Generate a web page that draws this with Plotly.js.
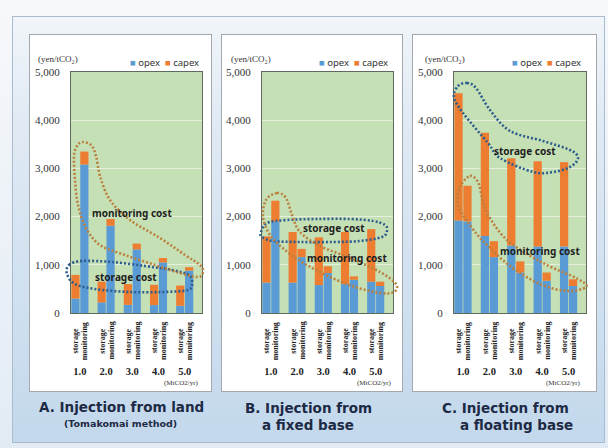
<!DOCTYPE html>
<html>
<head>
<meta charset="utf-8">
<script src="https://cdn.plot.ly/plotly-3.0.1.min.js"></script>
<style>
  html, body { margin:0; padding:0; }
  body { width:608px; height:448px; position:relative; overflow:hidden;
         background: linear-gradient(#f6f8fb, #e2ebf4); }
  #frame { position:absolute; left:12px; top:16px; width:593px; height:427px; box-sizing:border-box;
           border:1px solid #a9bccf; background: linear-gradient(#f1f5f9 0%, #e0eaf4 25%, #c3d8ec 100%); }
  .card { position:absolute; top:34px; height:358px; box-sizing:border-box;
          border:1px solid #a3a8ad; background:#ffffff; }
  #chart { position:absolute; left:0; top:0; width:608px; height:448px; }
</style>
</head>
<body>
<div id="frame"></div>
<div class="card" style="left:29px; width:183px;"></div>
<div class="card" style="left:221px; width:182px;"></div>
<div class="card" style="left:412px; width:185px;"></div>
<div id="chart"></div>
<script>
// ---------------- data ----------------
const categories = ['1.0', '2.0', '3.0', '4.0', '5.0'];
const barLabels = ['storage', 'monitoring'];
const seriesNames = ['opex', 'capex'];

// A. Injection from land (Tomakomai method)
const landStorageOpex   = [300, 220, 170, 165, 150];
const landStorageCapex  = [490, 430, 430, 420, 420];
const landMonitorOpex   = [3080, 1810, 1320, 1050, 880];
const landMonitorCapex  = [270, 140, 120, 90, 70];

// B. Injection from a fixed base
const fixedStorageOpex  = [630, 630, 580, 600, 650];
const fixedStorageCapex = [960, 1050, 990, 1080, 1090];
const fixedMonitorOpex  = [1900, 1160, 830, 690, 560];
const fixedMonitorCapex = [430, 170, 140, 70, 90];

// C. Injection from a floating base
const floatStorageOpex  = [1920, 1600, 1400, 1380, 1380];
const floatStorageCapex = [2640, 2140, 1810, 1770, 1750];
const floatMonitorOpex  = [1900, 1160, 840, 670, 560];
const floatMonitorCapex = [740, 330, 230, 170, 140];

const panelTitles = [
  ['A. Injection from land', '(Tomakomai method)'],
  ['B. Injection from', 'a fixed base'],
  ['C. Injection from', 'a floating base']
];
const yUnit = '(yen/tCO₂)';
const xUnit = '(MtCO2/yr)';
const bubbleLabels = ['storage cost', 'monitoring cost'];

// ---------------- style ----------------
const W = 608, H = 448;
const BLUE = '#5b9bd5', ORANGE = '#ed7d31';
const DOT_BLUE = '#2d5d8c', DOT_ORANGE = '#b9803f';
const SERIF = 'Liberation Serif, Times New Roman, serif';
const SANS = 'Noto Sans, Open Sans, sans-serif';
const TITLEFONT = 'DejaVu Sans, Verdana, sans-serif';

const panels = [
  {so: landStorageOpex,  sc: landStorageCapex,  mo: landMonitorOpex,  mc: landMonitorCapex,  px: [71, 202]},
  {so: fixedStorageOpex, sc: fixedStorageCapex, mo: fixedMonitorOpex, mc: fixedMonitorCapex, px: [262, 393]},
  {so: floatStorageOpex, sc: floatStorageCapex, mo: floatMonitorOpex, mc: floatMonitorCapex, px: [454, 586]}
];
const plotTop = 72, plotBottom = 313;
const px2x = v => v / W, px2y = v => 1 - v / H;

const xIdx = categories.map((c, i) => i);
const traces = [];
const layout = {
  width: W, height: H, autosize: false,
  margin: {l: 0, r: 0, t: 0, b: 0},
  paper_bgcolor: 'rgba(0,0,0,0)',
  plot_bgcolor: '#c6e0b5',
  showlegend: false,
  barmode: 'group', bargap: 0.32, bargroupgap: 0.08,
  annotations: [], shapes: []
};

panels.forEach((p, k) => {
  const sfx = k === 0 ? '' : String(k + 1);
  const xa = 'x' + sfx, ya = 'y' + sfx;
  const mk = (y, base, grp, color, name) => ({
    type: 'bar', x: xIdx, y: y, base: base, offsetgroup: grp, name: name,
    xaxis: xa, yaxis: ya, marker: {color: color, line: {width: 0}}, hoverinfo: 'skip'
  });
  traces.push(mk(p.so, undefined, 's', BLUE, seriesNames[0]));
  traces.push(mk(p.sc, p.so, 's', ORANGE, seriesNames[1]));
  traces.push(mk(p.mo, undefined, 'm', BLUE, seriesNames[0]));
  traces.push(mk(p.mc, p.mo, 'm', ORANGE, seriesNames[1]));

  layout['xaxis' + sfx] = {
    domain: [px2x(p.px[0]), px2x(p.px[1])], anchor: ya,
    range: [-0.34, 4.66], tickvals: xIdx, ticktext: categories,
    showgrid: false, zeroline: false, ticks: '',
    showline: true, mirror: true, linecolor: '#5d6a5d', linewidth: 1,
    tickfont: {family: SERIF, size: 10.5, color: '#222', weight: 'bold'},
    ticklabelstandoff: 48, fixedrange: true
  };
  layout['yaxis' + sfx] = {
    domain: [px2y(plotBottom), px2y(plotTop)], anchor: xa,
    range: [0, 5000], dtick: 1000, tickformat: ',d',
    showgrid: true, gridcolor: '#e4f0dc', gridwidth: 1, zeroline: false,
    showline: true, mirror: true, linecolor: '#5d6a5d', linewidth: 1,
    ticks: '', tickfont: {family: SERIF, size: 11, color: '#333'},
    ticklabelstandoff: 8, fixedrange: true
  };

  // rotated bar labels
  xIdx.forEach(i => {
    [-0.17, 0.17].forEach((off, j) => {
      layout.annotations.push({
        xref: xa, yref: 'paper', x: i + off, y: px2y(341),
        text: '<b>' + barLabels[j] + '</b>', textangle: -90, showarrow: false,
        xanchor: 'center', yanchor: 'middle',
        font: {family: SERIF, size: 8, color: '#222'}
      });
    });
  });
});

// unit labels, legends, x units
const unitX = [36, 229, 423];
const legendRight = [201, 390, 583];
const xUnitRight = [201, 394, 583];
for (let k = 0; k < 3; k++) {
  layout.annotations.push({xref: 'paper', yref: 'paper', x: px2x(unitX[k]), y: px2y(59),
    text: yUnit, showarrow: false, xanchor: 'left', yanchor: 'middle',
    font: {family: SERIF, size: 9, color: '#333'}});
  layout.annotations.push({xref: 'paper', yref: 'paper', x: px2x(legendRight[k]), y: px2y(62),
    text: '<span style="color:' + BLUE + '">■</span> ' + seriesNames[0] + '  <span style="color:' + ORANGE + '">■</span> ' + seriesNames[1],
    showarrow: false, xanchor: 'right', yanchor: 'middle',
    font: {family: SANS, size: 9.5, color: '#333'}});
  layout.annotations.push({xref: 'paper', yref: 'paper', x: px2x(xUnitRight[k]), y: px2y(383),
    text: xUnit, showarrow: false, xanchor: 'right', yanchor: 'middle',
    font: {family: SERIF, size: 7, color: '#333'}});
}

// panel titles
const titlePos = [
  [[121, 407, 13.5], [120, 423, 9.5]],
  [[308, 408, 13.5], [308, 425, 13.5]],
  [[505, 408, 13.5], [516, 425, 13.5]]
];
titlePos.forEach((tp, k) => {
  tp.forEach((t, j) => {
    layout.annotations.push({xref: 'paper', yref: 'paper', x: px2x(t[0]), y: px2y(t[1]),
      text: '<b>' + panelTitles[k][j] + '</b>', showarrow: false, xanchor: 'center', yanchor: 'middle',
      font: {family: TITLEFONT, size: t[2], color: '#1d2a45'}});
  });
});

// cost bubble labels (storage cost, monitoring cost) positions in px
const bubbleTextPos = [
  [[126, 277], [132, 213]],
  [[334, 228], [347, 258]],
  [[525, 151], [540, 251]]
];
bubbleTextPos.forEach(pair => {
  pair.forEach((t, j) => {
    layout.annotations.push({xref: 'paper', yref: 'paper', x: px2x(t[0]), y: px2y(t[1]),
      text: '<b>' + bubbleLabels[j] + '</b>', showarrow: false, xanchor: 'center', yanchor: 'middle',
      font: {family: SANS, size: 10, color: '#1e1e1e'}});
  });
});

// dotted outline bubbles (decorative, pixel outline of the reference)
function closedSpline(pts) {
  const P = pts.map(([x, y]) => [px2x(x), px2y(y)]);
  const n = P.length;
  let d = 'M' + P[0][0].toFixed(5) + ',' + P[0][1].toFixed(5);
  for (let i = 0; i < n; i++) {
    const p0 = P[(i - 1 + n) % n], p1 = P[i], p2 = P[(i + 1) % n], p3 = P[(i + 2) % n];
    const c1 = [p1[0] + (p2[0] - p0[0]) / 6, p1[1] + (p2[1] - p0[1]) / 6];
    const c2 = [p2[0] - (p3[0] - p1[0]) / 6, p2[1] - (p3[1] - p1[1]) / 6];
    d += ' C' + c1[0].toFixed(5) + ',' + c1[1].toFixed(5) + ' ' + c2[0].toFixed(5) + ',' + c2[1].toFixed(5) + ' ' + p2[0].toFixed(5) + ',' + p2[1].toFixed(5);
  }
  return d + ' Z';
}
const outlines = [
  {c: DOT_BLUE, pts: [[69,265],[82,261],[112,262],[145,266],[172,270],[189,275],[192,283],[188,290],[162,292],[129,292],[95,289],[75,284],[67,274]]},
  {c: DOT_ORANGE, pts: [[82,142],[91,145],[96,156],[100,176],[110,200],[130,220],[160,238],[185,255],[200,265],[203,272],[198,277],[180,273],[155,265],[125,255],[100,245],[86,228],[78,205],[75,180],[74,156],[77,146]]},
  {c: DOT_BLUE, pts: [[261,232],[267,223],[287,220],[317,219],[350,219],[373,221],[385,225],[387,231],[382,237],[360,241],[333,242],[300,242],[273,241],[262,237]]},
  {c: DOT_ORANGE, pts: [[277,193],[286,198],[292,215],[300,232],[320,246],[350,258],[380,272],[396,284],[394,292],[380,293],[355,287],[330,277],[305,264],[285,250],[270,235],[263,217],[266,200]]},
  {c: DOT_BLUE, pts: [[467,83],[476,88],[490,110],[510,131],[543,141],[570,150],[578,158],[570,167],[553,172],[533,172],[500,158],[488,143],[463,113],[454,97],[458,86]]},
  {c: DOT_ORANGE, pts: [[470,176],[478,182],[482,197],[487,213],[507,240],[543,263],[578,279],[586,287],[567,291],[540,284],[510,266],[483,241],[467,221],[458,205],[460,187]]}
];
outlines.forEach(o => {
  layout.shapes.push({type: 'path', xref: 'paper', yref: 'paper', path: closedSpline(o.pts),
    line: {color: o.c, width: 2.6, dash: '2px,2px'}, fillcolor: 'rgba(0,0,0,0)', layer: 'above'});
});

Plotly.newPlot('chart', traces, layout, {displayModeBar: false, staticPlot: true});
</script>
</body>
</html>
